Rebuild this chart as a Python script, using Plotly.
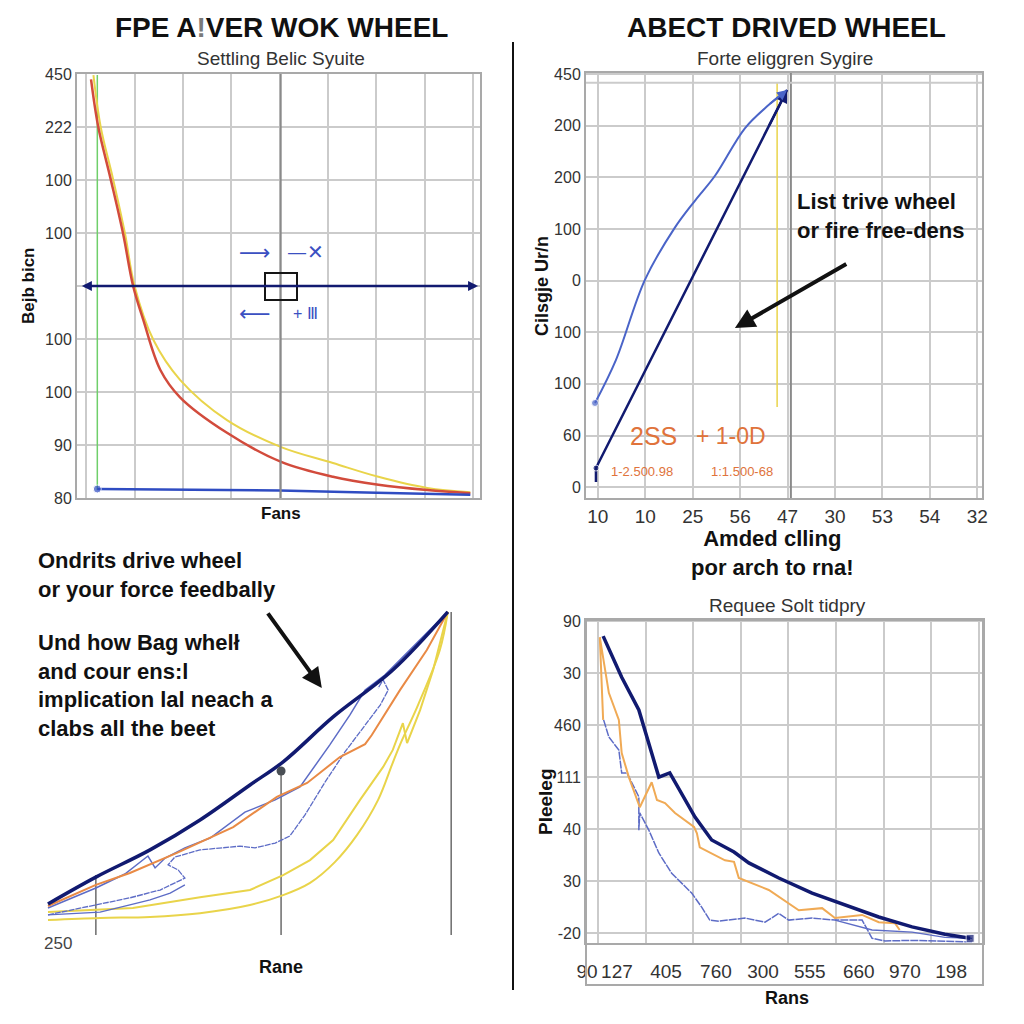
import plotly.graph_objects as go

W = H = 1024
def px(x): return x / W
def py(y): return 1 - y / H

# ---------------- data ----------------
# top-left panel (categorical y rows, index 0 = bottom)
tl_yticks = ['80', '90', '100', '100', '', '100', '100', '222', '450']
tl_red_x = [0.1, 0.25, 0.5, 0.76, 0.97, 1.18, 1.53, 1.94, 2.91, 4.03, 5.1, 6.04, 7.05, 7.94]
tl_red_y = [7.9, 7.0, 6.04, 5.0, 4.0, 3.36, 2.42, 1.9, 1.23, 0.68, 0.4, 0.25, 0.15, 0.09]
tl_yel_x = [0.15, 0.3, 0.55, 0.8, 1.0, 1.39, 1.94, 2.91, 4.03, 5.1, 6.04, 7.05, 7.94]
tl_yel_y = [7.98, 7.0, 6.04, 5.0, 4.0, 2.98, 2.23, 1.47, 0.96, 0.66, 0.4, 0.19, 0.11]
tl_green_x = [0.23, 0.23]
tl_green_y = [7.98, 0.15]
tl_blue_x = [0.23, 2.0, 4.0, 6.0, 7.94]
tl_blue_y = [0.17, 0.15, 0.14, 0.1, 0.06]

# top-right panel
tr_xticks = ['10', '10', '25', '56', '47', '30', '53', '54', '32']
tr_yticks = ['0', '60', '100', '100', '0', '100', '200', '200', '450']
tr_light_x = [-0.06, 0.38, 0.99, 1.62, 2.05, 2.47, 3.10, 3.60, 3.99]
tr_light_y = [1.63, 2.46, 4.01, 5.02, 5.55, 6.03, 6.95, 7.40, 7.69]
tr_navy_x = [-0.04, -0.04, 3.99]
tr_navy_y = [0.1, 0.37, 7.69]
tr_yel_x = [3.78, 3.78]
tr_yel_y = [7.83, 1.55]

# bottom-left panel
bl_navy_x = [0.19, 1.33, 2.62, 3.81, 5.0, 5.79, 6.98, 8.40, 9.71]
bl_navy_y = [1.06, 1.85, 2.65, 3.53, 4.56, 5.24, 6.56, 7.94, 9.65]
bl_orange_x = [0.19, 1.33, 2.14, 3.26, 4.6, 5.64, 6.36, 7.14, 7.74, 7.9, 8.57, 9.21, 9.71]
bl_orange_y = [1.0, 1.62, 1.97, 2.56, 3.32, 4.21, 4.62, 5.38, 5.76, 6.03, 7.35, 8.53, 9.65]
bl_blue1_x = [0.19, 1.33, 2.02, 2.38, 2.57, 2.74, 2.98, 3.45, 4.05, 4.88, 5.6, 6.19, 6.9, 7.38, 7.74, 8.21, 8.57, 9.71]
bl_blue1_y = [0.94, 1.53, 1.94, 2.29, 2.47, 2.12, 2.41, 2.71, 3.0, 3.76, 4.12, 4.5, 5.74, 6.62, 7.35, 7.79, 8.24, 9.65]
bl_blue2_x = [0.19, 1.33, 2.14, 2.86, 3.45, 3.29, 3.05, 3.21, 3.81, 4.76, 5.12, 5.6, 5.95, 6.31, 6.79, 7.26, 7.74, 8.1, 8.29, 8.17, 8.05]
bl_blue2_y = [0.74, 1.03, 1.24, 1.47, 1.82, 2.06, 2.21, 2.44, 2.65, 2.76, 2.71, 2.85, 3.06, 3.68, 4.65, 5.53, 6.32, 6.91, 7.35, 7.65, 7.41]
bl_blue3_x = [0.19, 1.43, 2.14, 2.62, 3.1, 3.45]
bl_blue3_y = [0.74, 0.82, 1.03, 1.18, 1.38, 1.62]
bl_yel1_x = [0.19, 2.21, 3.81, 5.0, 5.79, 6.43, 6.98, 7.62, 8.17, 8.40, 8.64, 8.74, 9.05, 9.36, 9.71]
bl_yel1_y = [0.82, 0.94, 1.26, 1.47, 1.91, 2.35, 2.94, 4.12, 5.09, 5.59, 6.38, 5.79, 6.76, 7.94, 9.65]
bl_yel2_x = [0.19, 1.43, 2.62, 3.81, 5.0, 5.79, 6.43, 7.02, 7.55, 8.05, 8.38, 8.57, 9.0, 9.52, 9.71]
bl_yel2_y = [0.59, 0.65, 0.68, 0.79, 1.03, 1.32, 1.68, 2.29, 3.09, 4.12, 5.15, 5.74, 6.91, 8.53, 9.65]
bl_stem_x = [1.33, 5.74, 9.79]
bl_stem_top = [1.91, 4.97, 9.65]
bl_stem_base = 0.15

# bottom-right panel
br_xticks = ['90', '127', '405', '760', '300', '555', '660', '970', '198']
br_xtick_pos = [-0.23, 0.40, 1.43, 2.48, 3.47, 4.45, 5.48, 6.45, 7.42]
br_yticks = ['-20', '30', '40', '111', '460', '30', '90']
br_navy_x = [0.11, 0.50, 0.86, 1.28, 1.51, 2.04, 2.39, 2.86, 3.17, 3.80, 4.50, 5.19, 5.90, 6.60, 7.29, 7.82]
br_navy_y = [5.71, 4.92, 4.29, 3.0, 3.08, 2.23, 1.79, 1.56, 1.35, 1.06, 0.77, 0.54, 0.31, 0.12, -0.02, -0.10]
br_orange_x = [0.11, 0.04, 0.23, 0.44, 0.50, 0.65, 0.88, 1.13, 1.24, 1.41, 1.62, 2.02, 2.08, 2.14, 2.67, 2.86, 2.96, 3.59, 4.22, 4.71, 4.98, 5.55, 5.9, 6.24, 6.34]
br_orange_y = [4.1, 5.69, 4.62, 4.1, 3.46, 3.0, 2.42, 2.9, 2.56, 2.5, 2.31, 2.04, 1.92, 1.65, 1.4, 1.37, 1.06, 0.83, 0.44, 0.48, 0.29, 0.35, 0.21, 0.19, 0.06]
br_blue1_x = [0.12, 0.23, 0.44, 0.50, 0.61, 0.86, 0.86, 0.88, 1.07, 1.28, 1.55, 1.97, 2.18, 2.35, 2.54, 3.09, 3.51, 3.80, 4.01, 4.5, 4.98, 5.55, 5.76, 6.03, 6.6, 7.29, 7.86]
br_blue1_y = [4.1, 3.77, 3.52, 3.08, 3.08, 2.62, 1.98, 2.31, 1.98, 1.54, 1.15, 0.77, 0.5, 0.25, 0.23, 0.29, 0.21, 0.38, 0.25, 0.29, 0.25, 0.25, -0.1, -0.15, -0.14, -0.15, -0.17]
br_blue2_x = [4.98, 5.76, 6.6, 7.29, 7.86]
br_blue2_y = [0.25, 0.06, 0.02, -0.08, -0.1]

# ---------------- colours ----------------
NAVY = '#111a70'
RED = '#d24b3c'
YEL = '#e9d44a'
GREEN = '#6fcf6a'
BLUE = '#2f4cc2'
LBLUE = '#4a64c8'
THINBLUE = '#5d6cc6'
ORANGE = '#e98a45'
ORANGE2 = '#f0aa55'
GRID = '#cbcbcb'
BORDER = '#a9a9a9'
TXT = '#333333'
FONT = 'Liberation Sans, Arial, sans-serif'

fig = go.Figure()

def line(x, y, color, width, xa, ya, shape='linear', msize=None, msym='circle', dash=None):
    mode = 'lines' if msize is None else 'lines+markers'
    d = dict(x=x, y=y, mode=mode, xaxis=xa, yaxis=ya,
             line=dict(color=color, width=width, shape=shape, dash=dash),
             hoverinfo='skip', showlegend=False)
    if msize is not None:
        d['marker'] = dict(size=msize, color=color, symbol=msym)
    fig.add_trace(go.Scatter(**d))

# top-left
line(tl_green_x, tl_green_y, GREEN, 1.5, 'x', 'y')
line(tl_yel_x, tl_yel_y, YEL, 2, 'x', 'y', 'spline')
line(tl_red_x, tl_red_y, RED, 2.5, 'x', 'y', 'spline')
line(tl_blue_x, tl_blue_y, BLUE, 2.5, 'x', 'y', 'linear', msize=[8, 0, 0, 0, 0])

# top-right
line(tr_yel_x, tr_yel_y, YEL, 1.5, 'x2', 'y2')
line(tr_light_x, tr_light_y, LBLUE, 2, 'x2', 'y2', 'spline', msize=[7] + [0] * (len(tr_light_x) - 1))
line(tr_navy_x, tr_navy_y, NAVY, 2.5, 'x2', 'y2', 'linear', msize=[0, 6, 0])

# bottom-left
stem_x, stem_y = [], []
for sx, st in zip(bl_stem_x, bl_stem_top):
    stem_x += [sx, sx, None]
    stem_y += [bl_stem_base, st, None]
line(stem_x, stem_y, '#6b6b6b', 1.5, 'x3', 'y3')
line(bl_yel2_x, bl_yel2_y, YEL, 2, 'x3', 'y3', 'spline')
line(bl_yel1_x, bl_yel1_y, YEL, 2, 'x3', 'y3')
line(bl_blue3_x, bl_blue3_y, THINBLUE, 1.3, 'x3', 'y3')
line(bl_blue2_x, bl_blue2_y, THINBLUE, 1.3, 'x3', 'y3', dash='6px,1px')
line(bl_blue1_x, bl_blue1_y, THINBLUE, 1.5, 'x3', 'y3')
line(bl_orange_x, bl_orange_y, ORANGE, 2, 'x3', 'y3')
line(bl_navy_x, bl_navy_y, NAVY, 3.5, 'x3', 'y3', 'spline')
fig.add_trace(go.Scatter(x=[bl_stem_x[1]], y=[bl_stem_top[1]], mode='markers', xaxis='x3', yaxis='y3',
                         marker=dict(size=9, color='#4a4f55'), hoverinfo='skip', showlegend=False))

# bottom-right
line(br_blue2_x, br_blue2_y, THINBLUE, 1.3, 'x4', 'y4')
line(br_blue1_x, br_blue1_y, THINBLUE, 1.5, 'x4', 'y4', dash='8px,1px')
line(br_orange_x, br_orange_y, ORANGE2, 2, 'x4', 'y4')
line(br_navy_x, br_navy_y, NAVY, 3.5, 'x4', 'y4', 'linear',
     msize=[0] * (len(br_navy_x) - 1) + [8], msym='square')

# ---------------- axes ----------------
tickfont = dict(family=FONT, size=16, color=TXT)
common = dict(showgrid=True, gridcolor=GRID, gridwidth=2, zeroline=False, showline=True,
              mirror=True, linecolor=BORDER, linewidth=2, ticks='', fixedrange=True, tickfont=tickfont,
              automargin=False)

layout = dict(
    width=W, height=H, autosize=False,
    margin=dict(l=0, r=0, t=0, b=0, pad=0),
    paper_bgcolor='white', plot_bgcolor='white',
    showlegend=False,
    xaxis=dict(common, domain=[px(77), px(480)], range=[-0.19, 8.14], anchor='y',
               tickmode='array', tickvals=list(range(9)), showticklabels=False),
    yaxis=dict(common, domain=[py(498), py(74)], range=[0, 8], anchor='x',
               tickmode='array', tickvals=list(range(9)), ticktext=tl_yticks),
    xaxis2=dict(common, domain=[px(586), px(982)], range=[-0.25, 8.1], anchor='y2',
                tickmode='array', tickvals=list(range(9)), ticktext=tr_xticks,
                tickfont=dict(family=FONT, size=19, color=TXT)),
    yaxis2=dict(common, domain=[py(498), py(73)], range=[-0.21, 8.02], anchor='x2',
                tickmode='array', tickvals=list(range(9)), ticktext=tr_yticks),
    xaxis3=dict(domain=[px(40), px(460)], range=[0, 10], visible=False, anchor='y3', fixedrange=True),
    yaxis3=dict(domain=[py(940), py(600)], range=[0, 10], visible=False, anchor='x3', fixedrange=True),
    xaxis4=dict(common, domain=[px(586), px(983)], range=[-0.25, 8.09], anchor='y4',
                showgrid=False, tickmode='array', tickvals=br_xtick_pos, ticktext=br_xticks,
                tickfont=dict(family=FONT, size=19, color=TXT), ticklabelstandoff=10,
                minor=dict(tickmode='array', tickvals=list(range(9)), showgrid=True,
                           gridcolor=GRID, gridwidth=2, ticks='')),
    yaxis4=dict(common, domain=[py(943), py(620)], range=[-0.19, 6.02], anchor='x4',
                tickmode='array', tickvals=list(range(7)), ticktext=br_yticks),
)

# ---------------- shapes ----------------
shapes = [
    dict(type='line', xref='paper', yref='paper', x0=px(513), x1=px(513), y0=py(42), y1=py(990),
         line=dict(color='#111', width=2)),
    dict(type='line', xref='x', yref='y', x0=4.02, x1=4.02, y0=0, y1=8, line=dict(color='#8a8a8a', width=2)),
    dict(type='rect', xref='paper', yref='paper', x0=px(265), x1=px(297), y0=py(273), y1=py(300),
         line=dict(color='#151515', width=2)),
    dict(type='line', xref='x2', yref='y2', x0=4.07, x1=4.07, y0=-0.21, y1=8.02, line=dict(color='#8a8a8a', width=2)),
    dict(type='line', xref='x2', yref='y2', x0=-0.25, x1=8.1, y0=7.83, y1=7.83, line=dict(color=GRID, width=2)),
    dict(type='rect', xref='paper', yref='paper', x0=px(586), x1=px(983), y0=py(620), y1=py(985),
         line=dict(color=BORDER, width=2)),
]
layout['shapes'] = shapes

# ---------------- annotations ----------------
def txt(x, y, text, size, color='#111', bold=False, angle=0, xanchor='center', align='center', family=FONT):
    t = f'<b>{text}</b>' if bold else text
    return dict(xref='paper', yref='paper', x=px(x), y=py(y), text=t, showarrow=False,
                font=dict(family=family, size=size, color=color), textangle=angle,
                xanchor=xanchor, yanchor='middle', align=align)

ann = [
    txt(281, 27, "FPE A<span style='color:#7a7a7a'>!</span>VER WOK WHEEL", 28, bold=True),
    txt(786, 27, 'ABECT DRIVED WHEEL', 28, bold=True),
    txt(281, 58, 'Settling Belic Syuite', 19, color=TXT),
    txt(785, 58, 'Forte eliggren Sygire', 19, color=TXT),
    txt(281, 513, 'Fans', 17, bold=True),
    txt(28, 286, 'Bejb bicn', 17, bold=True, angle=-90),
    txt(305, 252, '—✕', 20, color='#3b50c2', family='DejaVu Sans'),
    txt(255, 252, '⟶', 22, color='#3b50c2', family='DejaVu Sans'),
    txt(255, 313, '⟵', 22, color='#3b50c2', family='DejaVu Sans'),
    txt(305, 313, '+ Ⅲ', 16, color='#3b50c2'),
    txt(542, 286, 'Cilsgje Ur/n', 18, bold=True, angle=-90),
    txt(795, 216, 'List trive wheel<br>or fire free-dens', 22, bold=True, xanchor='left', align='left'),
    txt(772, 553, 'Amded clling<br>por arch to rna!', 22, bold=True),
    txt(653, 436, '2SS', 25, color='#e0733b'),
    txt(731, 436, '+ 1-0D', 23, color='#e0733b'),
    txt(642, 471, '1-2.500.98', 13, color='#e0733b'),
    txt(742, 471, '1:1.500-68', 13, color='#e0733b'),
    txt(36, 575, 'Ondrits drive wheel<br>or your force feedbally', 22, bold=True, xanchor='left', align='left'),
    txt(36, 685, 'Und how Bag whelł<br>and cour ens:l<br>implication lal neach a<br>clabs all the beet', 22,
        bold=True, xanchor='left', align='left'),
    txt(58, 943, '250', 17, color='#444'),
    txt(281, 967, 'Rane', 18, bold=True),
    txt(787, 605, 'Requee Solt tidpry', 19, color=TXT),
    txt(787, 998, 'Rans', 18, bold=True),
    txt(545, 802, 'Pleeleg', 19, bold=True, angle=-90),
    # arrows
    dict(xref='x', yref='y', axref='x', ayref='y', x=8.1, y=4, ax=-0.12, ay=4, text='', showarrow=True,
         arrowhead=2, arrowside='end+start', arrowwidth=2.5, arrowsize=0.8, arrowcolor=NAVY),
    dict(xref='x2', yref='y2', axref='x2', ayref='y2', x=3.99, y=7.69, ax=3.6, ay=6.98, text='', showarrow=True,
         arrowhead=2, arrowwidth=2.5, arrowsize=1, arrowcolor=NAVY),
    dict(xref='x2', yref='y2', axref='x2', ayref='y2', x=3.99, y=7.69, ax=3.60, ay=7.40, text='', showarrow=True,
         arrowhead=2, arrowwidth=2, arrowsize=1, arrowcolor=LBLUE),
    dict(xref='x2', yref='y2', axref='x2', ayref='y2', x=2.89, y=3.08, ax=5.27, ay=4.34, text='', showarrow=True,
         arrowhead=2, arrowwidth=4, arrowsize=1, arrowcolor='#111'),
    dict(xref='x3', yref='y3', axref='x3', ayref='y3', x=6.71, y=7.41, ax=5.40, ay=9.65, text='', showarrow=True,
         arrowhead=2, arrowwidth=4, arrowsize=1, arrowcolor='#111'),
]
layout['annotations'] = ann

fig.update_layout(**layout)
fig.write_html('out.html', config={'displayModeBar': False},
               post_script="document.body.style.margin='0';document.body.style.padding='0';"
                           "document.documentElement.style.margin='0';")
